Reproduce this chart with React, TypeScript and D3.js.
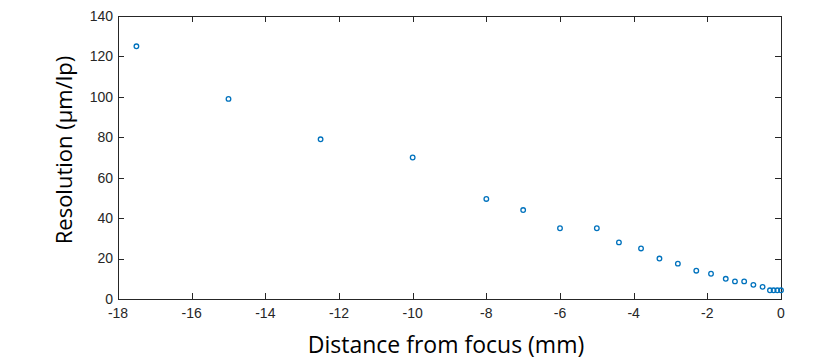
import React, { useEffect, useRef } from "react";
import * as d3 from "d3";

const distances = [
  -17.5, -15, -12.5, -10, -8, -7, -6, -5, -4.4, -3.8, -3.3, -2.8, -2.3, -1.9,
  -1.5, -1.25, -1.0, -0.75, -0.5, -0.3, -0.2, -0.1, 0,
];
const resolutions = [
  125, 99, 79, 70, 49.5, 44, 35, 35, 28, 25, 20, 17.5, 14, 12.5,
  10, 8.7, 8.7, 7, 6, 4.3, 4.3, 4.3, 4.3,
];
const xTicks = [-18, -16, -14, -12, -10, -8, -6, -4, -2, 0];
const yTicks = [0, 20, 40, 60, 80, 100, 120, 140];

export default function App() {
  const svgRef = useRef<SVGSVGElement>(null);

  useEffect(() => {
    const width = 831;
    const height = 364;
    const margin = { top: 16, right: 50, bottom: 65, left: 118 };
    const innerW = width - margin.left - margin.right;
    const innerH = height - margin.top - margin.bottom;
    const axisColor = "#262626";

    const svg = d3.select(svgRef.current);
    svg.selectAll("*").remove();
    svg.attr("width", width).attr("height", height);

    const x = d3.scaleLinear().domain([-18, 0]).range([0, innerW]);
    const y = d3.scaleLinear().domain([0, 140]).range([innerH, 0]);

    const g = svg.append("g").attr("transform", `translate(${margin.left},${margin.top})`);

    // box
    g.append("rect")
      .attr("x", 0.5)
      .attr("y", 0.5)
      .attr("width", innerW)
      .attr("height", innerH)
      .attr("fill", "none")
      .attr("stroke", axisColor)
      .attr("stroke-width", 1);

    const tickLen = 6;
    // x ticks bottom + top (inward)
    xTicks.forEach((t) => {
      const px = Math.round(x(t)) + 0.5;
      g.append("line").attr("x1", px).attr("x2", px).attr("y1", innerH).attr("y2", innerH - tickLen)
        .attr("stroke", axisColor);
      g.append("line").attr("x1", px).attr("x2", px).attr("y1", 0).attr("y2", tickLen)
        .attr("stroke", axisColor);
      g.append("text")
        .attr("x", x(t))
        .attr("y", innerH + 19)
        .attr("text-anchor", "middle")
        .style("font-family", "Liberation Sans, Arial, sans-serif")
        .style("font-size", "14px")
        .style("fill", axisColor)
        .text(t);
    });

    // y ticks left + right (inward)
    yTicks.forEach((t) => {
      const py = Math.round(y(t)) + 0.5;
      g.append("line").attr("x1", 0).attr("x2", tickLen).attr("y1", py).attr("y2", py)
        .attr("stroke", axisColor);
      g.append("line").attr("x1", innerW).attr("x2", innerW - tickLen).attr("y1", py).attr("y2", py)
        .attr("stroke", axisColor);
      g.append("text")
        .attr("x", -5)
        .attr("y", y(t))
        .attr("dy", "0.35em")
        .attr("text-anchor", "end")
        .style("font-family", "Liberation Sans, Arial, sans-serif")
        .style("font-size", "14px")
        .style("fill", axisColor)
        .text(t);
    });

    // points
    g.selectAll(".pt")
      .data(distances.map((d, i) => ({ d, r: resolutions[i] })))
      .enter()
      .append("circle")
      .attr("class", "pt")
      .attr("cx", (p) => x(p.d))
      .attr("cy", (p) => y(p.r))
      .attr("r", 2.3)
      .attr("fill", "none")
      .attr("stroke", "#0072BD")
      .attr("stroke-width", 1.3);

    // axis labels
    svg.append("text")
      .attr("x", 446)
      .attr("y", 353)
      .attr("text-anchor", "middle")
      .style("font-family", "Open Sans, sans-serif")
      .style("font-size", "23px")
      .style("fill", "#000")
      .text("Distance from focus (mm)");

    svg.append("text")
      .attr("transform", `translate(72,150) rotate(-90)`)
      .attr("text-anchor", "middle")
      .style("font-family", "Open Sans, sans-serif")
      .style("font-size", "22px")
      .style("fill", "#000")
      .text("Resolution (μm/lp)");
  }, []);

  return (
    <div style={{ margin: "-8px" }}>
      <svg ref={svgRef}></svg>
    </div>
  );
}
